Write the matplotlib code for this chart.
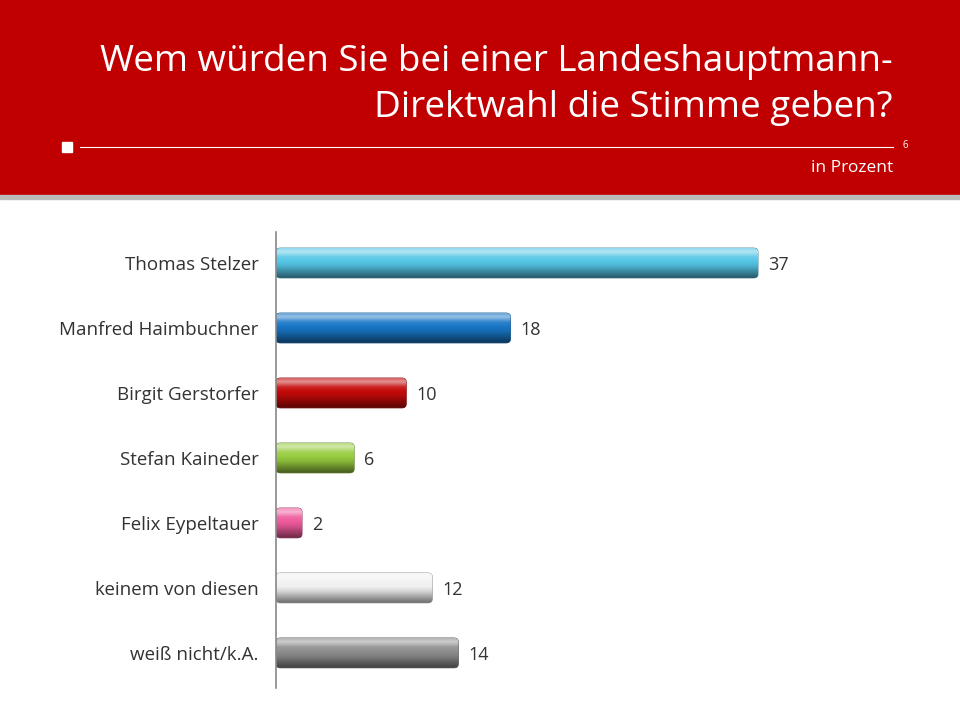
import matplotlib
matplotlib.use("Agg")
import matplotlib.pyplot as plt
import numpy as np
from matplotlib.patches import FancyBboxPatch, Rectangle
from matplotlib.colors import to_rgb

categories = ["Thomas Stelzer", "Manfred Haimbuchner", "Birgit Gerstorfer", "Stefan Kaineder",
              "Felix Eypeltauer", "keinem von diesen", "weiß nicht/k.A."]
values = [37, 18, 10, 6, 2, 12, 14]
colors = ["#55C6E6", "#1876C6", "#C40A0A", "#98CC40", "#EE5A9C", "#F0F0F0", "#8E8E8E"]

W, H = 960, 720
fig = plt.figure(figsize=(9.6, 7.2), dpi=100)
fig.patch.set_facecolor("white")
F = "Open Sans"

def fx(x): return x / W
def fy(y): return 1 - y / H

fig.patches.append(Rectangle((0, fy(195)), 1, 195 / H, transform=fig.transFigure, color="#C00000", zorder=0))
fig.patches.append(Rectangle((0, fy(199)), 1, 4 / H, transform=fig.transFigure, color="#BBBBBB", zorder=0))
fig.patches.append(Rectangle((fx(62), fy(152)), 10 / W, 10 / H, transform=fig.transFigure, color="white"))
fig.add_artist(plt.Line2D([fx(80), fx(893)], [fy(147), fy(147)], transform=fig.transFigure, color="white", lw=0.8))
fig.text(fx(893), fy(62), "Wem würden Sie bei einer Landeshauptmann-", color="white", fontsize=26.5, ha="right", va="center", family=F)
fig.text(fx(893), fy(108), "Direktwahl die Stimme geben?", color="white", fontsize=26.5, ha="right", va="center", family=F)
fig.text(fx(905), fy(145), "6", color="white", fontsize=7, ha="center", va="center", family=F)
fig.text(fx(893), fy(168), "in Prozent", color="white", fontsize=12.5, ha="right", va="center", family=F)

ax = fig.add_axes([fx(276), fy(688), 1 - fx(276), (688 - 232) / H])
xmax = (960 - 276) / ((758 - 276) / 37)
ax.set_xlim(0, xmax)
ax.set_ylim(6.54, -0.477)
ax.axis("off")
ax.plot([0, 0], [6.54, -0.477], color="#888888", lw=1.2, clip_on=False)

bh = 0.46
t = np.linspace(0, 1, 64)
prof = np.interp(t, [0, 0.12, 0.3, 0.6, 1], [0.35, 0.55, 0.1, -0.1, -0.55])
for i, (v, c) in enumerate(zip(values, colors)):
    base = np.array(to_rgb(c))
    img = np.zeros((64, 1, 3))
    for k, p in enumerate(prof):
        img[k, 0] = base + (1 - base) * p if p > 0 else base * (1 + p)
    patch = FancyBboxPatch((0, i - bh / 2), v, bh, boxstyle="round,pad=0,rounding_size=0.35",
                           mutation_aspect=0.17, fc="none", ec=tuple(base * 0.6), lw=0.6)
    ax.add_patch(patch)
    im = ax.imshow(img, extent=(0, v, i + bh / 2, i - bh / 2), aspect="auto", zorder=1)
    im.set_clip_path(patch)
    ax.text(v + 0.75, i + 0.03, str(v), va="center", ha="left", fontsize=13, color="#333333", family=F)
    ax.text(-1.35, i + 0.03, categories[i], va="center", ha="right", fontsize=13.5, color="#333333", family=F)
ax.set_xlim(0, xmax)
ax.set_ylim(6.54, -0.477)

fig.savefig("out.png", dpi=100)
